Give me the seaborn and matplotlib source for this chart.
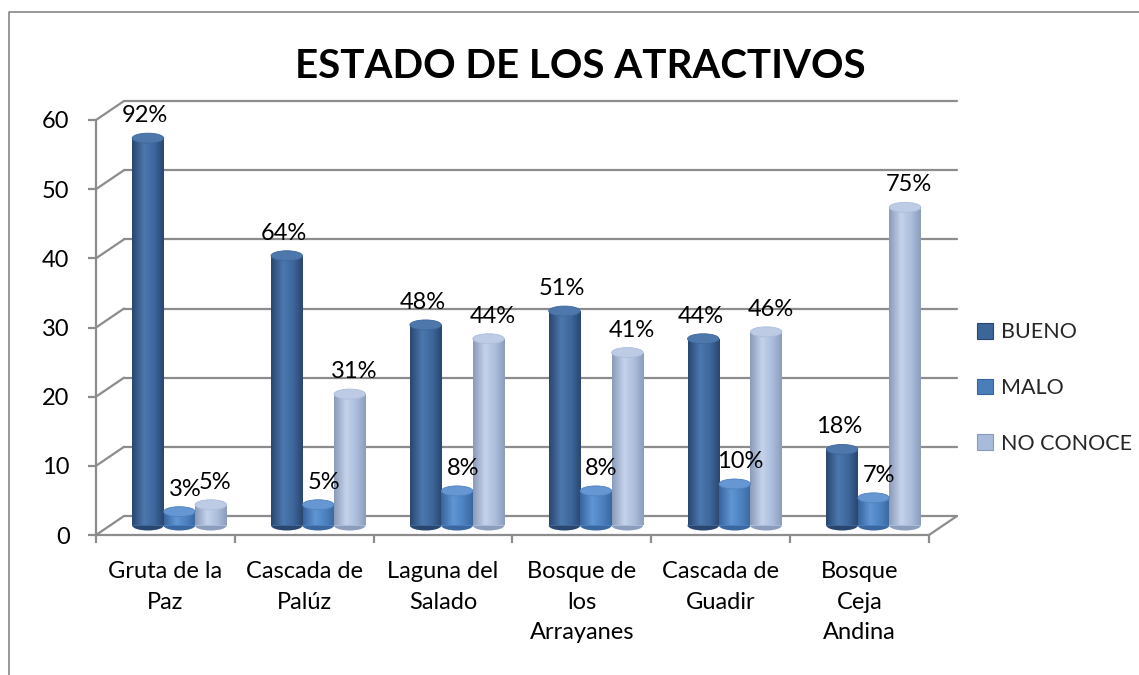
import numpy as np
import pandas as pd
import matplotlib
matplotlib.use("Agg")
import matplotlib.pyplot as plt
import matplotlib.transforms as mtransforms
from matplotlib.colors import LinearSegmentedColormap
from matplotlib.patches import Ellipse, Patch, ConnectionPatch
import seaborn as sns

# data
atractivos = ["Gruta de la\nPaz", "Cascada de\nPalúz", "Laguna del\nSalado",
              "Bosque de\nlos\nArrayanes", "Cascada de\nGuadir", "Bosque\nCeja\nAndina"]
estados = ["BUENO", "MALO", "NO CONOCE"]
bueno = [56, 39, 29, 31, 27, 11]
malo = [2, 3, 5, 5, 6, 4]
no_conoce = [3, 19, 27, 25, 28, 46]
pct_bueno = ["92%", "64%", "48%", "51%", "44%", "18%"]
pct_malo = ["3%", "5%", "8%", "8%", "10%", "7%"]
pct_no_conoce = ["5%", "31%", "44%", "41%", "46%", "75%"]
y_ticks = [0, 10, 20, 30, 40, 50, 60]

base_colors = {"BUENO": "#3C6598", "MALO": "#4A7EBB", "NO CONOCE": "#A9BBDA"}
# edge / highlight / edge shades to fake the cylinder look
shades = {
    "BUENO": ["#2A466F", "#4C78AE", "#3E679C", "#2A466F"],
    "MALO": ["#38649C", "#6096D4", "#4D82C0", "#3A67A0"],
    "NO CONOCE": ["#8A9BBA", "#C5D2EA", "#ACBEDC", "#8C9DBC"],
}
cap_colors = {"BUENO": "#4E77AC", "MALO": "#6697D2", "NO CONOCE": "#BDCBE5"}
# horizontal nudge of the value labels (points), Excel puts them a bit off-centre
label_dx = {"BUENO": -2, "MALO": 4, "NO CONOCE": 3}
grid_color = "#8C8C8C"
FS = 17


def main():
    sns.set_theme(style="white")
    plt.rcParams['font.family'] = ['Lato', 'DejaVu Sans']

    fig = plt.figure(figsize=(11.39, 6.75), dpi=100)
    ax = fig.add_axes([96 / 1139, 140 / 675, 833 / 1139, 415 / 675])

    df = pd.DataFrame({
        "atractivo": atractivos * 3,
        "estado": np.repeat(estados, len(atractivos)),
        "valor": bueno + malo + no_conoce,
        "pct": pct_bueno + pct_malo + pct_no_conoce,
    })

    sns.barplot(data=df, x="atractivo", y="valor", hue="estado", order=atractivos,
                hue_order=estados, palette=base_colors, width=0.68, saturation=1,
                errorbar=None, legend=False, ax=ax)

    def shift(dx, dy):
        # pixel offset (dpi 100) to fake the depth of the 3D chart
        return ax.transData + mtransforms.ScaledTranslation(dx / 100, dy / 100, fig.dpi_scale_trans)

    t_mid = shift(14, 9.5)
    t_back = shift(28, 19)

    # back wall gridlines and the diagonals towards the front axis
    for v in y_ticks:
        ax.plot([-0.5, 5.5], [v, v], transform=t_back, color=grid_color, lw=1.6,
                clip_on=False, zorder=0.5)
        ax.add_artist(ConnectionPatch((-0.5, v), (-0.5, v), coordsA=ax.transData,
                                      coordsB=t_back, color=grid_color, lw=1.6, zorder=0.5))
    ax.add_artist(ConnectionPatch((5.5, 0), (5.5, 0), coordsA=ax.transData,
                                  coordsB=t_back, color=grid_color, lw=1.6, zorder=0.5))

    px_per_unit = 415 / 60
    cap_h = 10 / px_per_unit
    grad = np.linspace(0, 1, 64).reshape(1, -1)

    for estado, cont in zip(estados, ax.containers):
        cmap = LinearSegmentedColormap.from_list(estado, list(zip([0, 0.38, 0.7, 1], shades[estado])))
        labels = df.loc[df["estado"] == estado, "pct"].tolist()
        for bar, lab in zip(cont.patches, labels):
            bar.set_transform(t_mid)
            bar.set_clip_on(False)
            bar.set_edgecolor("none")
            x0, w, h = bar.get_x(), bar.get_width(), bar.get_height()
            cx = x0 + w / 2
            ax.add_patch(Ellipse((cx, 0), w, cap_h, transform=t_mid, facecolor=shades[estado][3],
                                 edgecolor="none", zorder=bar.get_zorder() - 0.01, clip_on=False))
            im = ax.imshow(grad, cmap=cmap, extent=(x0, x0 + w, 0, h), aspect="auto",
                           interpolation="bilinear", transform=t_mid,
                           zorder=bar.get_zorder() + 0.01)
            im.set_clip_path(bar)
            ax.add_patch(Ellipse((cx, h), w, cap_h, transform=t_mid, facecolor=cap_colors[estado],
                                 edgecolor=shades[estado][2], lw=0.6,
                                 zorder=bar.get_zorder() + 0.02, clip_on=False))
            ax.annotate(lab, xy=(cx, h), xycoords=t_mid, xytext=(label_dx[estado], 11.5),
                        textcoords="offset points", ha="center", va="baseline",
                        fontsize=FS, color="black", zorder=5)

    ax.set_xlim(-0.5, 5.5)
    ax.set_ylim(0, 60)

    # front axes
    for side in ["top", "right"]:
        ax.spines[side].set_visible(False)
    for side in ["left", "bottom"]:
        ax.spines[side].set_color(grid_color)
        ax.spines[side].set_linewidth(1.6)

    ax.set_yticks(y_ticks)
    ax.tick_params(axis="y", left=True, length=6, width=1.6, color=grid_color,
                   pad=13, labelsize=FS, labelcolor="black")
    ax.set_xticks(np.arange(-0.5, 6, 1))
    ax.set_xticks(range(len(atractivos)), labels=atractivos, minor=True)
    ax.tick_params(axis="x", which="major", bottom=True, length=6, width=1.6,
                   color=grid_color, labelbottom=False)
    ax.tick_params(axis="x", which="minor", bottom=True, length=0, pad=19,
                   labelsize=FS, labelcolor="black")
    for t in ax.get_xticklabels(minor=True):
        t.set_linespacing(1.55)
    ax.set_xlabel("")
    ax.set_ylabel("")
    ax.grid(False)
    ax.patch.set_alpha(0)

    handles = [Patch(facecolor=base_colors[e], edgecolor=shades[e][0], lw=0.8) for e in estados]
    ax.legend(handles, estados, loc="center left", bbox_to_anchor=(977 / 1139, 1 - 388 / 675),
              bbox_transform=fig.transFigure, frameon=False, borderpad=0, borderaxespad=0,
              handlelength=0.75, handleheight=0.75, handletextpad=0.35, labelspacing=1.65,
              fontsize=15.5)

    fig.text(580 / 1139, 1 - 78 / 675, "ESTADO DE LOS ATRACTIVOS", fontsize=29,
             fontweight="bold", ha="center", va="baseline", color="black")

    # chart area border (only top and left are visible in the reference)
    fig.add_artist(plt.Line2D([9 / 1139, 9 / 1139, 1], [0, 1 - 12 / 675, 1 - 12 / 675],
                              transform=fig.transFigure, color="#868686", lw=1.2))

    fig.savefig("out.png", dpi=100)


if __name__ == "__main__":
    main()
